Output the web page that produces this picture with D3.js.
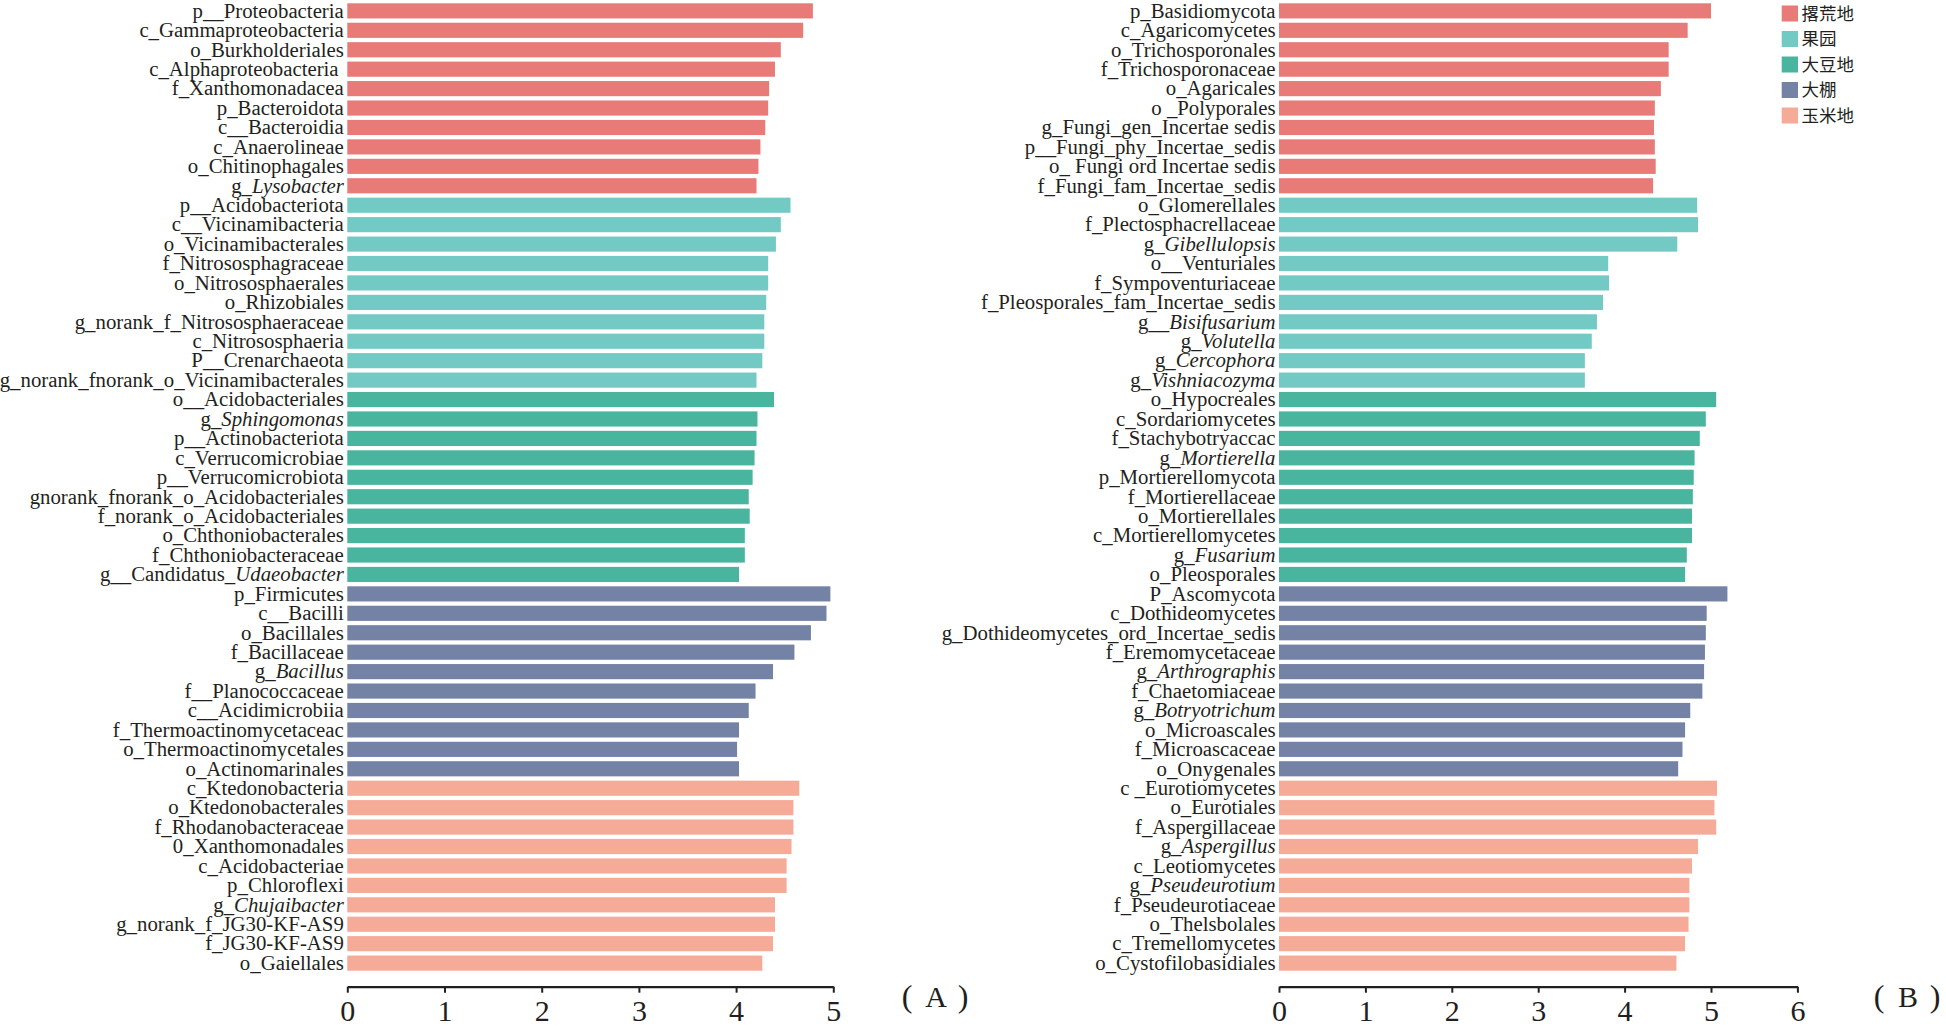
<!DOCTYPE html>
<html>
<head>
<meta charset="utf-8">
<script src="https://cdn.jsdelivr.net/npm/d3@7/dist/d3.min.js"></script>
<style>
  html, body { margin: 0; padding: 0; background: #ffffff; }
  svg { display: block; }
  text { font-family: "Liberation Serif", "Times New Roman", serif; fill: #231f20; }
</style>
</head>
<body>
<script>
// ---------------- DATA ----------------
const groupNames = ["撂荒地", "果园", "大豆地", "大棚", "玉米地"];
const groupColors = ["#E87B78", "#73CAC5", "#4AB59F", "#7482A6", "#F6AA98"];
const groupCounts = [10, 10, 10, 10, 10];

// Panel A (bacteria) — text between * * is italic
const labelsA = [
  "p__Proteobacteria", "c_Gammaproteobacteria", "o_Burkholderiales", "c_Alphaproteobacteria\u00a0",
  "f_Xanthomonadacea", "p_Bacteroidota", "c__Bacteroidia", "c_Anaerolineae", "o_Chitinophagales", "g_*Lysobacter*",
  "p__Acidobacteriota", "c__Vicinamibacteria", "o_Vicinamibacterales", "f_Nitrososphagraceae", "o_Nitrososphaerales",
  "o_Rhizobiales", "g_norank_f_Nitrososphaeraceae", "c_Nitrososphaeria", "P__Crenarchaeota", "g_norank_fnorank_o_Vicinamibacterales",
  "o__Acidobacteriales", "g_*Sphingomonas*", "p__Actinobacteriota", "c_Verrucomicrobiae", "p__Verrucomicrobiota",
  "gnorank_fnorank_o_Acidobacteriales", "f_norank_o_Acidobacteriales", "o_Chthoniobacterales", "f_Chthoniobacteraceae", "g__Candidatus_*Udaeobacter*",
  "p_Firmicutes", "c__Bacilli", "o_Bacillales", "f_Bacillaceae", "g_*Bacillus*",
  "f__Planococcaceae", "c__Acidimicrobiia", "f_Thermoactinomycetaceac", "o_Thermoactinomycetales", "o_Actinomarinales",
  "c_Ktedonobacteria", "o_Ktedonobacterales", "f_Rhodanobacteraceae", "0_Xanthomonadales", "c_Acidobacteriae",
  "p_Chloroflexi", "g_*Chujaibacter*", "g_norank_f_JG30-KF-AS9", "f_JG30-KF-AS9", "o_Gaiellales"
];
const valuesA = [
  4.79, 4.69, 4.46, 4.40, 4.34, 4.33, 4.30, 4.25, 4.23, 4.21,
  4.56, 4.46, 4.41, 4.33, 4.33, 4.31, 4.29, 4.29, 4.27, 4.21,
  4.39, 4.22, 4.21, 4.19, 4.17, 4.13, 4.14, 4.09, 4.09, 4.03,
  4.97, 4.93, 4.77, 4.60, 4.38, 4.20, 4.13, 4.03, 4.01, 4.03,
  4.65, 4.59, 4.59, 4.57, 4.52, 4.52, 4.40, 4.40, 4.38, 4.27
];
const ticksA = [0, 1, 2, 3, 4, 5];

// Panel B (fungi)
const labelsB = [
  "p_Basidiomycota", "c_Agaricomycetes", "o_Trichosporonales", "f_Trichosporonaceae", "o_Agaricales",
  "o _Polyporales", "g_Fungi_gen_Incertae sedis", "p__Fungi_phy_Incertae_sedis", "o_ Fungi ord Incertae sedis", "f_Fungi_fam_Incertae_sedis",
  "o_Glomerellales", "f_Plectosphacrellaceae", "g_*Gibellulopsis*", "o__Venturiales", "f_Sympoventuriaceae",
  "f_Pleosporales_fam_Incertae_sedis", "g__*Bisifusarium*", "g_*Volutella*", "g_*Cercophora*", "g_*Vishniacozyma*",
  "o_Hypocreales", "c_Sordariomycetes", "f_Stachybotryaccac", "g_*Mortierella*", "p_Mortierellomycota",
  "f_Mortierellaceae", "o_Mortierellales", "c_Mortierellomycetes", "g_*Fusarium*", "o_Pleosporales",
  "P_Ascomycota", "c_Dothideomycetes", "g_Dothideomycetes_ord_Incertae_sedis", "f_Eremomycetaceae", "g_*Arthrographis*",
  "f_Chaetomiaceae", "g_*Botryotrichum*", "o_Microascales", "f_Microascaceae", "o_Onygenales",
  "c _Eurotiomycetes", "o_Eurotiales", "f_Aspergillaceae", "g_*Aspergillus*", "c_Leotiomycetes",
  "g_*Pseudeurotium*", "f_Pseudeurotiaceae", "o_Thelsbolales", "c_Tremellomycetes", "o_Cystofilobasidiales"
];
const valuesB = [
  5.00, 4.73, 4.51, 4.51, 4.42, 4.35, 4.34, 4.35, 4.36, 4.33,
  4.84, 4.85, 4.61, 3.81, 3.82, 3.75, 3.68, 3.62, 3.54, 3.54,
  5.06, 4.94, 4.87, 4.81, 4.80, 4.79, 4.78, 4.78, 4.72, 4.70,
  5.19, 4.95, 4.94, 4.93, 4.92, 4.90, 4.76, 4.70, 4.67, 4.62,
  5.07, 5.04, 5.06, 4.85, 4.78, 4.75, 4.75, 4.74, 4.70, 4.60
];
const ticksB = [0, 1, 2, 3, 4, 5, 6];

const panelLetters = ["A", "B"];

// ---------------- DRAW ----------------
const W = 1946, H = 1031;
const svg = d3.select("body").append("svg").attr("width", W).attr("height", H);

function groupIndexList(counts) {
  const out = [];
  counts.forEach((c, gi) => { for (let k = 0; k < c; k++) out.push(gi); });
  return out;
}

const color = d3.scaleOrdinal().domain(d3.range(groupNames.length)).range(groupColors);
const axisY = 986.7;

function drawPanel(labels, values, ticks, xRange, letter, titleX) {
  const rows = labels.map((l, i) => ({ id: i, label: l, value: values[i] }));
  const gIdx = groupIndexList(groupCounts);

  const x = d3.scaleLinear().domain([0, d3.max(ticks)]).range(xRange);
  const y = d3.scaleBand().domain(rows.map(d => d.id)).range([3.3, 970.7]).paddingInner(0.22).paddingOuter(0);

  const g = svg.append("g");

  g.selectAll("rect.bar").data(rows).join("rect")
    .attr("class", "bar")
    .attr("x", x(0))
    .attr("y", d => y(d.id))
    .attr("width", d => x(d.value) - x(0))
    .attr("height", y.bandwidth())
    .attr("fill", d => color(gIdx[d.id]));

  const lab = g.selectAll("text.lab").data(rows).join("text")
    .attr("class", "lab")
    .attr("x", x(0) - 3.5)
    .attr("y", d => y(d.id) + y.bandwidth() / 2 + 6.8)
    .attr("text-anchor", "end")
    .style("font-size", "20.8px")
    .style("white-space", "pre");
  lab.each(function (d) {
    const parts = d.label.split("*");
    const t = d3.select(this);
    parts.forEach((p, k) => {
      if (!p) return;
      t.append("tspan").text(p).style("font-style", k % 2 === 1 ? "italic" : "normal");
    });
  });

  const axis = d3.axisBottom(x).tickValues(ticks).tickFormat(d3.format("d"))
    .tickSize(6).tickSizeOuter(0).tickPadding(7);
  const ag = g.append("g").attr("transform", `translate(0,${axisY})`).call(axis);
  ag.attr("font-family", null).attr("font-size", null);
  ag.select(".domain").attr("stroke", "#231f20").attr("stroke-width", 2.2);
  ag.selectAll(".tick line").attr("stroke", "#231f20").attr("stroke-width", 2);
  ag.selectAll(".tick text")
    .attr("fill", "#231f20")
    .attr("y", 34).attr("dy", null)
    .style("font-family", "'Liberation Serif', 'Times New Roman', serif")
    .style("font-size", "30px");

  // panel tag "( A )"
  const tag = g.append("g").style("font-size", "32px");
  tag.append("text").attr("x", titleX - 29).attr("y", 1007).attr("text-anchor", "middle").text("(");
  tag.append("text").attr("x", titleX).attr("y", 1007).attr("text-anchor", "middle").style("font-size", "30px").text(letter);
  tag.append("text").attr("x", titleX + 27).attr("y", 1007).attr("text-anchor", "middle").text(")");
}

drawPanel(labelsA, valuesA, ticksA, [347.3, 833.3], panelLetters[0], 936);
drawPanel(labelsB, valuesB, ticksB, [1279, 1797.4], panelLetters[1], 1908);

// Legend
const lg = svg.append("g").attr("class", "legend");
const legendY = d3.scalePoint().domain(d3.range(groupNames.length)).range([13.5, 115.5]);
groupNames.forEach((name, i) => {
  lg.append("rect")
    .attr("x", 1781.7).attr("y", legendY(i) - 8)
    .attr("width", 16.3).attr("height", 16)
    .attr("fill", groupColors[i]);
  lg.append("text")
    .attr("x", 1801.5).attr("y", legendY(i) + 6.3)
    .style("font-family", "'Noto Sans CJK SC', sans-serif")
    .style("font-size", "17.5px")
    .attr("fill", "#231f20")
    .text(name);
});
</script>
</body>
</html>
